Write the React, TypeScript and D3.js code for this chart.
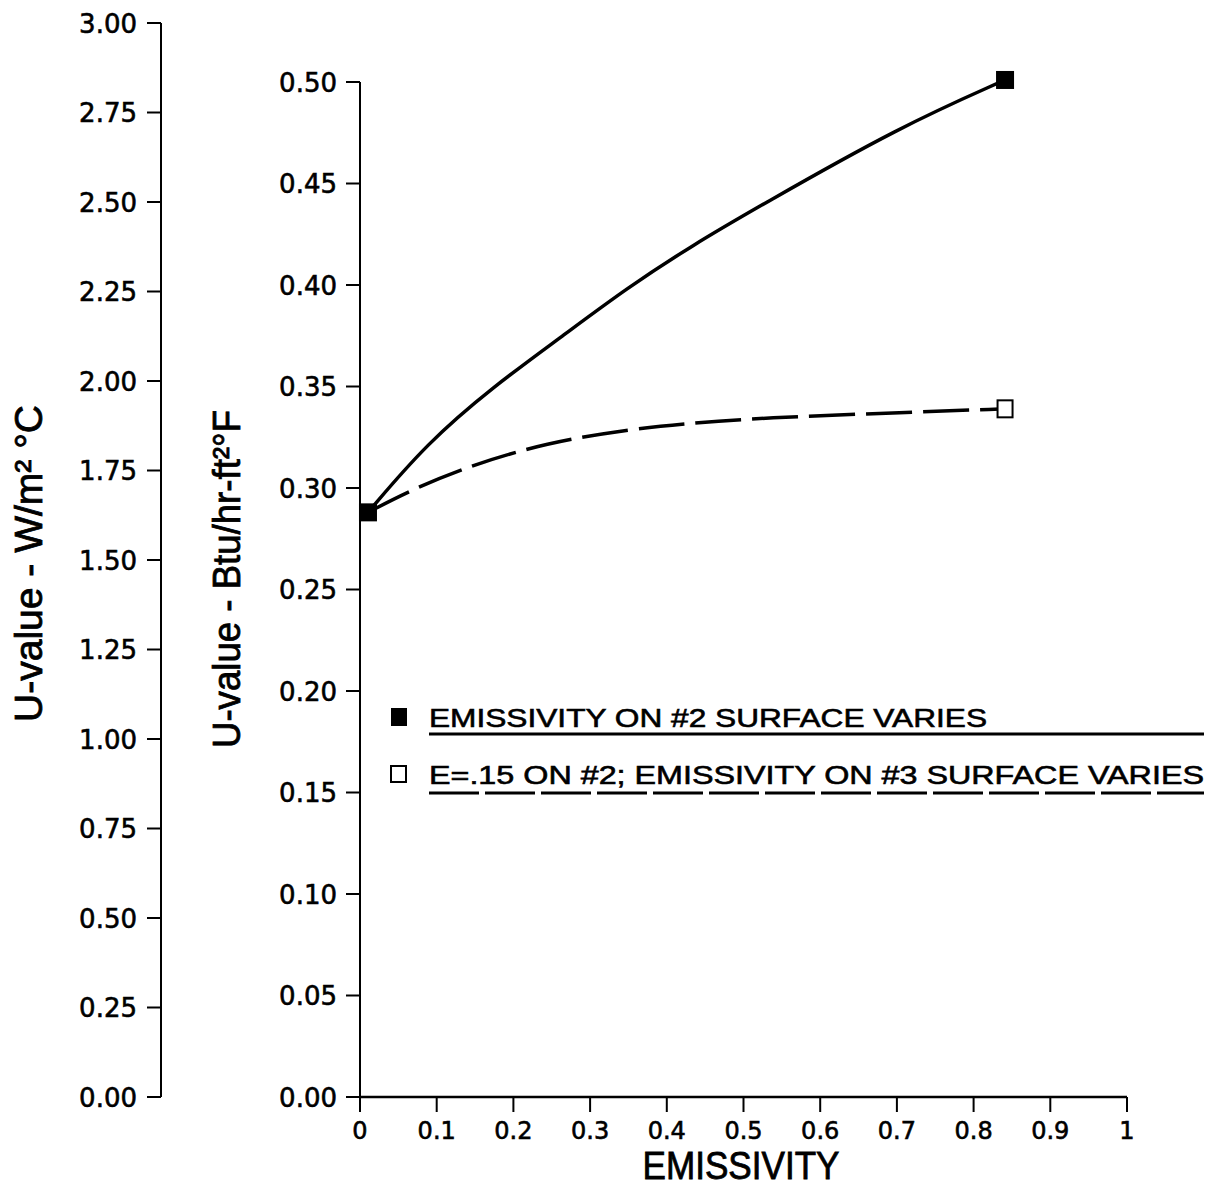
import React from "react";
import * as d3 from "d3";

const W = 1216;
const H = 1188;

// x ticks (emissivity)
const xTicks = [0, 0.1, 0.2, 0.3, 0.4, 0.5, 0.6, 0.7, 0.8, 0.9, 1];
const xTickLabels = ["0", "0.1", "0.2", "0.3", "0.4", "0.5", "0.6", "0.7", "0.8", "0.9", "1"];
// right (inner) axis, Btu/hr-ft2-F
const btuTicks = [0, 0.05, 0.1, 0.15, 0.2, 0.25, 0.3, 0.35, 0.4, 0.45, 0.5];
// left (outer) axis, W/m2-C
const siTicks = [0, 0.25, 0.5, 0.75, 1.0, 1.25, 1.5, 1.75, 2.0, 2.25, 2.5, 2.75, 3.0];

// series 1: emissivity on #2 surface varies (solid)
const s1Emis = [0.0104, 0.087, 0.174, 0.261, 0.348, 0.434, 0.5215, 0.704, 0.841];
const s1U = [0.288, 0.322, 0.35, 0.374, 0.3985, 0.4197, 0.439, 0.478, 0.501];
// series 2: E=.15 on #2; emissivity on #3 surface varies (dashed)
const s2Emis = [0.0104, 0.069, 0.147, 0.243, 0.348, 0.434, 0.5215, 0.714, 0.841];
const s2U = [0.288, 0.2995, 0.3115, 0.3222, 0.3288, 0.332, 0.3345, 0.3373, 0.339];

const s1Markers = [0, 8];
const s2Markers = [8];

const legendLabels = [
  "EMISSIVITY ON #2 SURFACE VARIES",
  "E=.15 ON #2; EMISSIVITY ON #3 SURFACE VARIES",
];

const FONT = "'DejaVu Sans', Verdana, sans-serif";
const TITLE_FONT = "'Liberation Sans', Arial, Helvetica, sans-serif";

export default function App() {
  const x = d3.scaleLinear().domain([0, 1]).range([360, 1127]);
  const yBtu = d3.scaleLinear().domain([0, 0.5]).range([1097, 82]);
  const ySI = d3.scaleLinear().domain([0, 3]).range([1097, 23]);

  const line = d3
    .line<[number, number]>()
    .x((d) => x(d[0]))
    .y((d) => yBtu(d[1]))
    .curve(d3.curveBasis);

  const s1 = s1Emis.map((e, i) => [e, s1U[i]] as [number, number]);
  const s2 = s2Emis.map((e, i) => [e, s2U[i]] as [number, number]);

  const leftAxisX = 161;
  const rightAxisX = 360;
  const axisY = 1097;

  const tickText = { fontFamily: FONT, fill: "#000", stroke: "#000", strokeWidth: 0.6 };

  return (
    <svg
      width={W}
      height={H}
      style={{ position: "absolute", left: 0, top: 0, background: "#fff" }}
    >
      <rect x={0} y={0} width={W} height={H} fill="#fff" />
      {/* Left axis (W/m2 C) */}
      <line x1={leftAxisX} x2={leftAxisX} y1={ySI(3)} y2={ySI(0)} stroke="#000" strokeWidth={2} />
      {siTicks.map((t) => (
        <g key={"si" + t}>
          <line x1={leftAxisX - 14} x2={leftAxisX} y1={ySI(t)} y2={ySI(t)} stroke="#000" strokeWidth={2} />
          <text x={leftAxisX - 24} y={ySI(t) + 9.5} textAnchor="end" fontSize={26} {...tickText}>
            {t.toFixed(2)}
          </text>
        </g>
      ))}

      {/* Right axis (Btu) */}
      <line x1={rightAxisX} x2={rightAxisX} y1={yBtu(0.5)} y2={yBtu(0)} stroke="#000" strokeWidth={2} />
      {btuTicks.map((t) => (
        <g key={"b" + t}>
          <line x1={rightAxisX - 14} x2={rightAxisX} y1={yBtu(t)} y2={yBtu(t)} stroke="#000" strokeWidth={2} />
          <text x={rightAxisX - 23} y={yBtu(t) + 9.5} textAnchor="end" fontSize={26} {...tickText}>
            {t.toFixed(2)}
          </text>
        </g>
      ))}

      {/* X axis */}
      <line x1={x(0)} x2={x(1)} y1={axisY} y2={axisY} stroke="#000" strokeWidth={2.5} />
      {xTicks.map((t, i) => (
        <g key={"x" + t}>
          <line x1={x(t)} x2={x(t)} y1={axisY} y2={axisY + 15} stroke="#000" strokeWidth={2} />
          <text x={x(t)} y={axisY + 42} textAnchor="middle" fontSize={24} {...tickText}>
            {xTickLabels[i]}
          </text>
        </g>
      ))}
      <text
        x={741}
        y={1179}
        textAnchor="middle"
        fontFamily={TITLE_FONT}
        fontSize={38}
        textLength={197}
        lengthAdjust="spacingAndGlyphs"
        fill="#000"
        stroke="#000"
        strokeWidth={0.8}
      >
        EMISSIVITY
      </text>

      {/* Y titles */}
      <text
        transform={`translate(42, ${722}) rotate(-90)`}
        x={0}
        y={0}
        textAnchor="start"
        fontFamily={TITLE_FONT}
        fontSize={38}
        textLength={317}
        lengthAdjust="spacingAndGlyphs"
        fill="#000"
        stroke="#000"
        strokeWidth={0.8}
      >
        U-value - W/m² °C
      </text>
      <text
        transform={`translate(240, ${748}) rotate(-90)`}
        x={0}
        y={0}
        textAnchor="start"
        fontFamily={TITLE_FONT}
        fontSize={38}
        textLength={338}
        lengthAdjust="spacingAndGlyphs"
        fill="#000"
        stroke="#000"
        strokeWidth={0.8}
      >
        U-value - Btu/hr-ft²°F
      </text>

      {/* Curves */}
      <path d={line(s1) || ""} fill="none" stroke="#000" strokeWidth={3.5} />
      <path d={line(s2) || ""} fill="none" stroke="#000" strokeWidth={3.5} strokeDasharray="46 11" />

      {/* Markers */}
      {s1Markers.map((i) => (
        <rect
          key={"m1" + i}
          x={x(s1Emis[i]) - 9}
          y={yBtu(s1U[i]) - 9}
          width={18}
          height={18}
          fill="#000"
        />
      ))}
      {s2Markers.map((i) => (
        <rect
          key={"m2" + i}
          x={x(s2Emis[i]) - 7.5}
          y={yBtu(s2U[i]) - 8.5}
          width={15}
          height={17}
          fill="#fff"
          stroke="#000"
          strokeWidth={2}
        />
      ))}

      {/* Legend */}
      <rect x={391} y={708} width={16} height={18} fill="#000" />
      <text
        x={429}
        y={727}
        fontFamily={TITLE_FONT}
        fontSize={26}
        textLength={558}
        lengthAdjust="spacingAndGlyphs"
        fill="#000"
        stroke="#000"
        strokeWidth={0.6}
      >
        {legendLabels[0]}
      </text>
      <line x1={429} x2={1204} y1={734} y2={734} stroke="#000" strokeWidth={3} />

      <rect x={391} y={766} width={15} height={16} fill="#fff" stroke="#000" strokeWidth={2} />
      <text
        x={429}
        y={784}
        fontFamily={TITLE_FONT}
        fontSize={26}
        textLength={775}
        lengthAdjust="spacingAndGlyphs"
        fill="#000"
        stroke="#000"
        strokeWidth={0.6}
      >
        {legendLabels[1]}
      </text>
      <line x1={429} x2={1204} y1={793} y2={793} stroke="#000" strokeWidth={3} strokeDasharray="50 6" />
    </svg>
  );
}
